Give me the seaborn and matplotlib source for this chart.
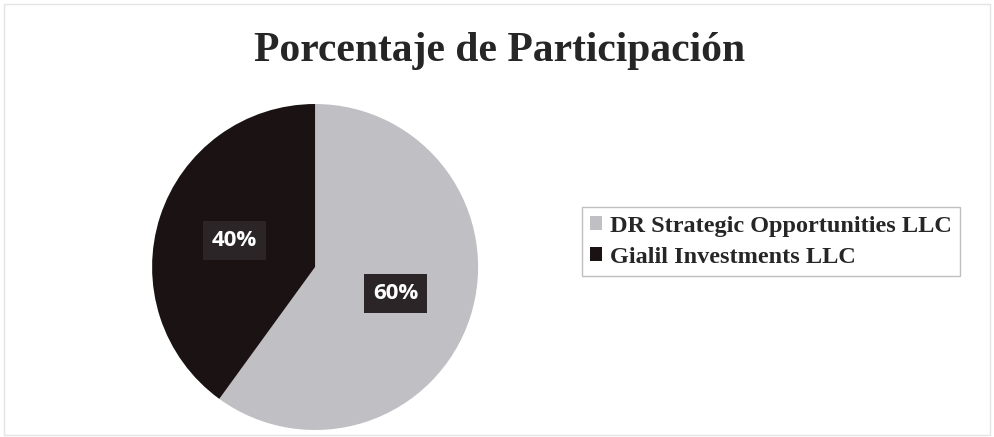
import matplotlib
matplotlib.use("Agg")
import matplotlib.pyplot as plt
import seaborn as sns
from matplotlib.patches import Patch, Rectangle

# data
labels = ["DR Strategic Opportunities LLC", "Gialil Investments LLC"]
shares = [60, 40]
colors = ["#c0bfc3", "#1b1214"]
title = "Porcentaje de Participación"

sns.set_theme(style="white")
plt.rcParams["font.family"] = ["Liberation Serif", "DejaVu Serif"]

fig = plt.figure(figsize=(9.94, 4.37), dpi=100)
fig.patch.set_facecolor("white")

# faint chart frame
fig.patches.append(Rectangle((0.004, 0.005), 0.992, 0.985, transform=fig.transFigure,
                             fill=False, edgecolor="#e4e4e4", linewidth=1.0))

ax = fig.add_axes([0.153, 0.016, 0.328, 0.746])
wedges, texts, autotexts = ax.pie(
    shares, colors=colors, startangle=90, counterclock=False,
    autopct="%1.0f%%", pctdistance=0.52,
    wedgeprops=dict(linewidth=0),
)
ax.set_aspect("equal")
ax.set_xlim(-1, 1)
ax.set_ylim(-1, 1)

for t in autotexts:
    t.set_color("white")
    t.set_fontfamily(["Open Sans", "DejaVu Sans"])
    t.set_fontweight("bold")
    t.set_fontsize(16)
    t.set_bbox(dict(facecolor="#2b2527", edgecolor="none", boxstyle="square,pad=0.4"))

fig.text(0.503, 0.883, title, ha="center", va="center", fontsize=30, fontweight="bold",
         color="#262626")

handles = [Patch(facecolor=c, edgecolor="none") for c in colors]
leg = fig.legend(handles, labels, loc="center left", bbox_to_anchor=(0.573, 0.447),
                 frameon=True, fancybox=False, handlelength=0.5,
                 handleheight=0.5, handletextpad=0.3, labelspacing=0.4,
                 borderpad=0.35, prop=dict(weight="bold", size=17.5))
leg.get_frame().set_edgecolor("#b0b0b0")
leg.get_frame().set_linewidth(1.0)
for t in leg.get_texts():
    t.set_color("#262626")

fig.savefig("out.png", dpi=100)
